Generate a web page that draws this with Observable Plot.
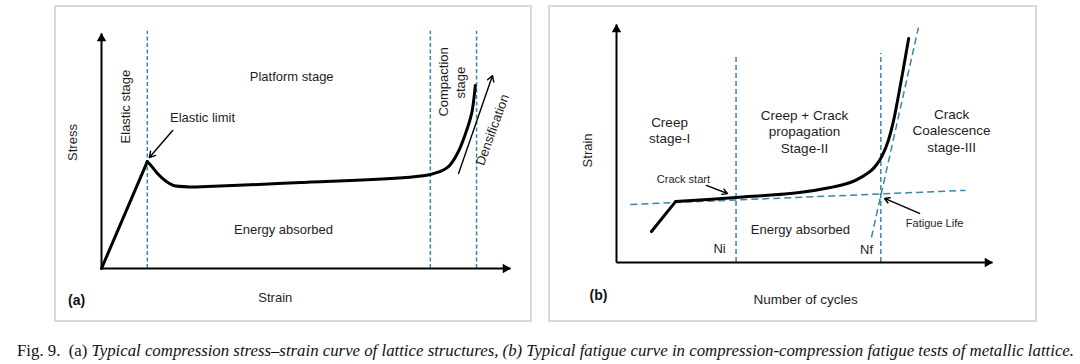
<!DOCTYPE html>
<html>
<head>
<meta charset="utf-8">
<script src="https://cdn.jsdelivr.net/npm/d3@7"></script>
<script src="https://cdn.jsdelivr.net/npm/@observablehq/plot@0.6"></script>
<style>
  html, body { margin: 0; padding: 0; background: #fff; }
  #page { position: relative; width: 1080px; height: 364px; overflow: hidden; background: #fff; }
  .panel { position: absolute; }
  .panel svg { position: absolute; left: 0; top: 0; overflow: visible; }
  .frame { position: absolute; border: 2px solid #d9d9d9; box-sizing: border-box; pointer-events: none; }
  #caption { position: absolute; left: 17px; top: 341px; font-family: "Liberation Serif", "DejaVu Serif", serif;
             font-size: 16px; color: #111; white-space: nowrap; transform-origin: 0 50%; line-height: 20px; }
  #caption i { font-style: italic; }
</style>
</head>
<body>
<div id="page">
  <div class="panel" id="pa" style="left:54px;top:5px;width:478px;height:317px;"></div>
  <div class="frame" style="left:54px;top:5px;width:478px;height:317px;"></div>
  <div class="panel" id="pb" style="left:548px;top:5px;width:489px;height:317px;"></div>
  <div class="frame" style="left:548px;top:5px;width:489px;height:317px;"></div>
  <div id="caption">Fig. 9.&nbsp; (a) <i>Typical compression stress–strain curve of lattice structures, (b) Typical fatigue curve in compression-compression fatigue tests of metallic lattice.</i></div>
</div>
<script>
// ---------- Panel (a): stress–strain (schematic units 0–100) ----------
const aCurveStrain = [0, 11.2, 12.5, 13.7, 15.2, 16.4, 17.6, 21.8, 25.9, 48.7, 80.4, 84.6, 87.0, 89.0, 90.5, 91.2, 91.4];
const aCurveStress = [0, 45.5, 43.0, 40.4, 37.9, 36.4, 35.3, 34.7, 34.9, 36.6, 40.0, 43.0, 48.9, 57.4, 66.0, 74.5, 77.9];
const aStageStrain = [11.2, 80.4, 91.7];
const aStageTop = 101;
const aLabels = ["Platform stage", "Elastic limit", "Energy absorbed"];
const aLabelX = [46.5, 24.7, 44.5];
const aLabelY = [81.7, 64.3, 16.6];
const aVLabels = ["Stress", "Elastic stage", "Compaction", "stage"];
const aVLabelX = [-7.1, 5.9, 83.6, 87.8];
const aVLabelY = [53.6, 68.9, 79.4, 79.1];
const aDensText = "Densification";
const aDensX = 95.6, aDensY = 59.0;
const aArrowsX1 = [17.4, 87.3], aArrowsY1 = [58.7, 40.4];
const aArrowsX2 = [11.7, 95.6], aArrowsY2 = [47.2, 82.1];

// ---------- Panel (b): fatigue curve ----------
const bCurveCycles = [9.3, 15.7, 31.8, 48.7, 56.9, 62.2, 65.4, 67.8, 69.4, 70.7, 72.3, 73.7, 75.0, 76.3, 77.7];
const bCurveStrain = [13.0, 25.6, 27.3, 29.4, 31.5, 33.6, 36.1, 38.7, 41.6, 45.0, 51.3, 59.7, 70.2, 81.5, 94.1];
const bStageCycles = [31.8, 70.3];
const bStageTop = [87.0, 87.8];
const bTangentX1 = [3.7, 67.8], bTangentY1 = [24.4, 10.5];
const bTangentX2 = [92.8, 80.3], bTangentY2 = [30.3, 98.7];
const bBlockLines = [["Creep", "stage-I"], ["Creep + Crack", "propagation", "Stage-II"], ["Crack", "Coalescence", "stage-III"]];
const bBlockX = [14.1, 50.0, 89.1];
const bBlockTopY = [58.8, 61.8, 62.2];
const bLabels = ["Energy absorbed", "Ni", "Nf"];
const bLabelX = [48.9, 27.4, 66.5];
const bLabelY = [13.9, 5.9, 5.5];
const bSmallLabels = ["Crack start", "Fatigue Life"];
const bSmallX = [17.8, 84.6], bSmallY = [34.9, 16.4];
const bArrowX1 = [23.9, 80.6], bArrowY1 = [32.4, 20.6];
const bArrowX2 = [29.5, 71.3], bArrowY2 = [29.0, 26.9];

const FONT = "'Liberation Sans', Arial, sans-serif";
const INK = "#1e1e1e";
const DASH = "#3a86a8";

// axes: lines from the origin plus filled triangular heads
function axisMarks() {
  const axes = [{x1: 0, y1: 0, x2: 0, y2: 100}, {x1: 0, y1: 0, x2: 100, y2: 0}];
  return [
    Plot.link(axes, {x1: "x1", y1: "y1", x2: "x2", y2: "y2", stroke: "#000", strokeWidth: 2}),
    Plot.dot([{x: 0, y: 100}], {x: "x", y: "y", symbol: "triangle", r: 3.5, fill: "#000", stroke: "none", dy: 5}),
    Plot.dot([{x: 100, y: 0}], {x: "x", y: "y", symbol: "triangle", r: 3.5, fill: "#000", stroke: "none", rotate: 90, dx: -5})
  ];
}

// ---------- build panel (a) ----------
{
  const pts = aCurveStrain.map((x, i) => ({x, y: aCurveStress[i]}));
  const elastic = pts.slice(0, 2);
  const plastic = pts.slice(1);
  const stages = aStageStrain.map(x => ({x, y1: 0, y2: aStageTop}));
  const labels = aLabels.map((t, i) => ({t, x: aLabelX[i], y: aLabelY[i]}));
  const vlabels = aVLabels.map((t, i) => ({t, x: aVLabelX[i], y: aVLabelY[i]}));
  const arrows = aArrowsX1.map((x1, i) => ({x1, y1: aArrowsY1[i], x2: aArrowsX2[i], y2: aArrowsY2[i]}));
  const chart = Plot.plot({
    width: 478, height: 317,
    marginLeft: 47, marginRight: 22, marginTop: 28, marginBottom: 54,
    x: {domain: [0, 100], axis: null},
    y: {domain: [0, 100], axis: null},
    style: {fontFamily: FONT, background: "transparent", overflow: "visible"},
    marks: [
      Plot.ruleX(stages, {x: "x", y1: "y1", y2: "y2", stroke: DASH, strokeWidth: 1.5, strokeDasharray: "4,2.5"}),
      ...axisMarks(),
      Plot.line(elastic, {x: "x", y: "y", stroke: "#000", strokeWidth: 3, curve: "linear"}),
      Plot.line(plastic, {x: "x", y: "y", stroke: "#000", strokeWidth: 3, curve: "catmull-rom"}),
      Plot.arrow(arrows, {x1: "x1", y1: "y1", x2: "x2", y2: "y2", stroke: "#000", strokeWidth: 1.4, headLength: 7}),
      Plot.text(labels, {x: "x", y: "y", text: "t", fontSize: 13, fill: INK}),
      Plot.text(vlabels, {x: "x", y: "y", text: "t", fontSize: 13, fill: INK, rotate: -90}),
      Plot.text([{t: aDensText, x: aDensX, y: aDensY}], {x: "x", y: "y", text: "t", fontSize: 13, fill: INK, rotate: -70}),
      Plot.text([{t: "Strain", x: 42.5, y: -12.3}], {x: "x", y: "y", text: "t", fontSize: 13, fill: INK}),
      Plot.text([{t: "(a)", x: -6.1, y: -13.6}], {x: "x", y: "y", text: "t", fontSize: 14, fontWeight: "bold", fill: "#111"})
    ]
  });
  document.getElementById("pa").append(chart);
}

// ---------- build panel (b) ----------
{
  const pts = bCurveCycles.map((x, i) => ({x, y: bCurveStrain[i]}));
  const first = pts.slice(0, 2);
  const rest = pts.slice(1);
  const stages = bStageCycles.map((x, i) => ({x, y1: 0, y2: bStageTop[i]}));
  const tangents = bTangentX1.map((x1, i) => ({x1, y1: bTangentY1[i], x2: bTangentX2[i], y2: bTangentY2[i]}));
  const blocks = [];
  bBlockLines.forEach((lines, i) => lines.forEach((t, j) => blocks.push({t, x: bBlockX[i], y: bBlockTopY[i] - j * 6.9})));
  const labels = bLabels.map((t, i) => ({t, x: bLabelX[i], y: bLabelY[i]}));
  const small = bSmallLabels.map((t, i) => ({t, x: bSmallX[i], y: bSmallY[i]}));
  const arrows = bArrowX1.map((x1, i) => ({x1, y1: bArrowY1[i], x2: bArrowX2[i], y2: bArrowY2[i]}));
  const chart = Plot.plot({
    width: 489, height: 317,
    marginLeft: 68, marginRight: 45, marginTop: 19, marginBottom: 60,
    x: {domain: [0, 100], axis: null},
    y: {domain: [0, 100], axis: null},
    style: {fontFamily: FONT, background: "transparent", overflow: "visible"},
    marks: [
      Plot.ruleX(stages, {x: "x", y1: "y1", y2: "y2", stroke: DASH, strokeWidth: 1.5, strokeDasharray: "5,3"}),
      Plot.link(tangents, {x1: "x1", y1: "y1", x2: "x2", y2: "y2", stroke: DASH, strokeWidth: 1.5, strokeDasharray: "7,4"}),
      ...axisMarks(),
      Plot.line(first, {x: "x", y: "y", stroke: "#000", strokeWidth: 3, curve: "linear"}),
      Plot.line(rest, {x: "x", y: "y", stroke: "#000", strokeWidth: 3, curve: "catmull-rom"}),
      Plot.arrow(arrows, {x1: "x1", y1: "y1", x2: "x2", y2: "y2", stroke: "#000", strokeWidth: 1.4, headLength: 6}),
      Plot.text(blocks, {x: "x", y: "y", text: "t", fontSize: 13.5, fill: INK}),
      Plot.text(labels, {x: "x", y: "y", text: "t", fontSize: 13, fill: INK}),
      Plot.text(small, {x: "x", y: "y", text: "t", fontSize: 11, fill: INK}),
      Plot.text([{t: "Strain", x: -7.7, y: 47.1}], {x: "x", y: "y", text: "t", fontSize: 13, fill: INK, rotate: -90}),
      Plot.text([{t: "Number of cycles", x: 50.3, y: -15.5}], {x: "x", y: "y", text: "t", fontSize: 13.5, fill: INK}),
      Plot.text([{t: "(b)", x: -4.8, y: -13.9}], {x: "x", y: "y", text: "t", fontSize: 14, fontWeight: "bold", fill: "#111"})
    ]
  });
  document.getElementById("pb").append(chart);
}

// fit caption width to the reference span
{
  const cap = document.getElementById("caption");
  const w = cap.getBoundingClientRect().width;
  const target = 1057;
  if (w > 0) cap.style.transform = `scaleX(${target / w})`;
}
</script>
</body>
</html>
